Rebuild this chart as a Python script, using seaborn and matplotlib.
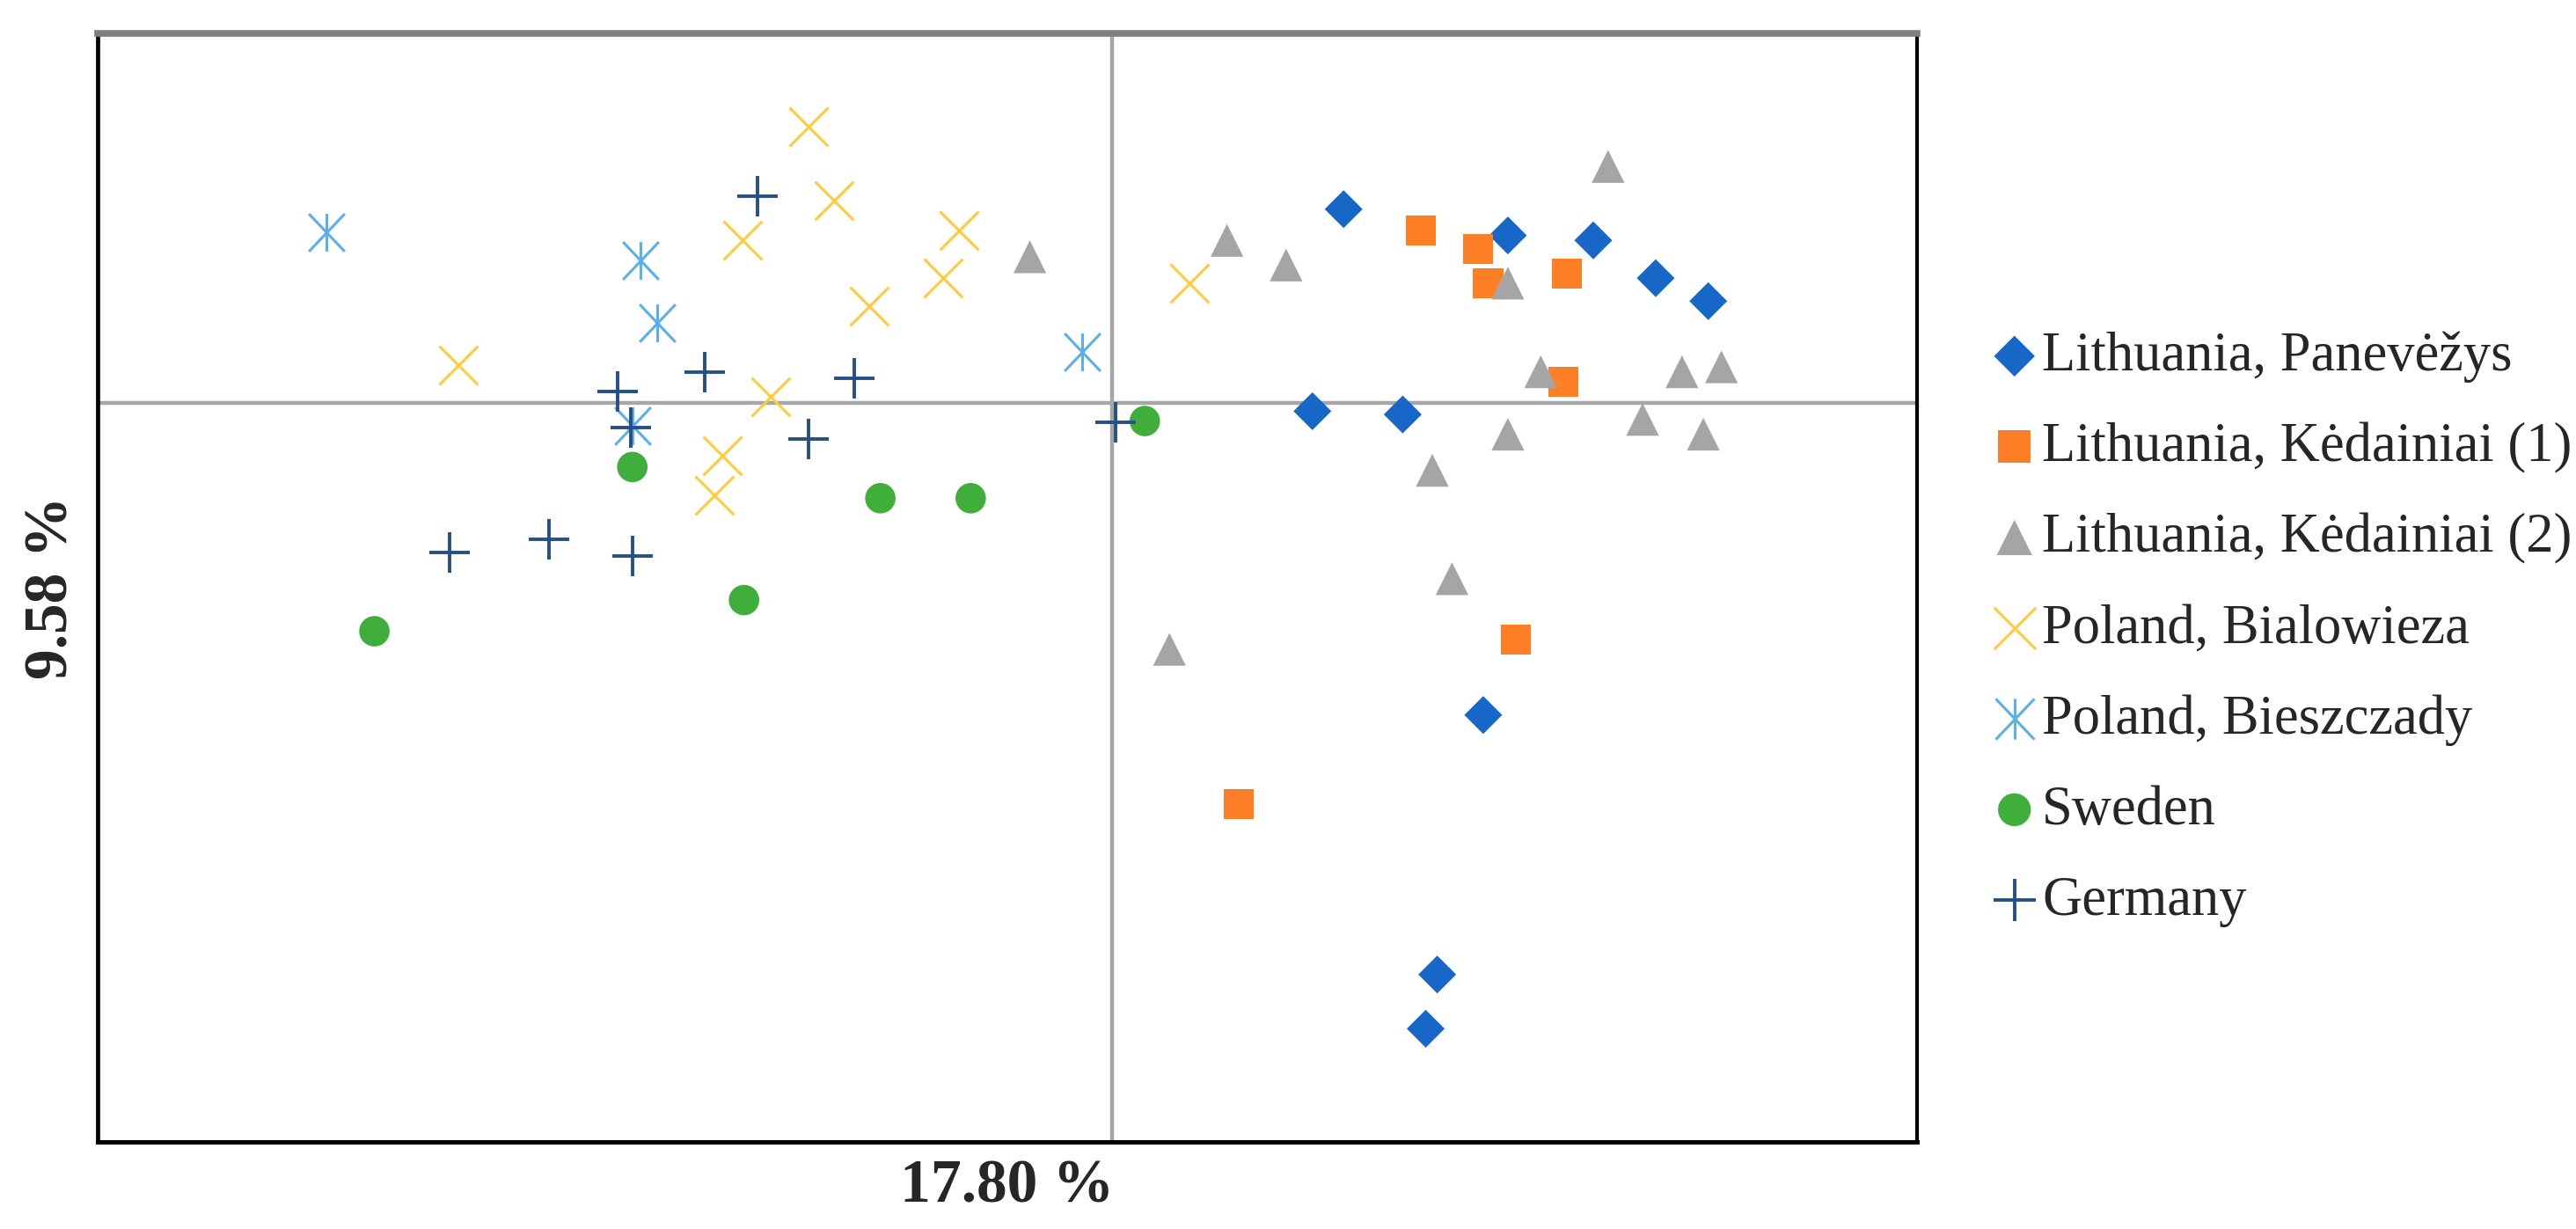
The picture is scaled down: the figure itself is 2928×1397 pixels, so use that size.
import matplotlib
matplotlib.use('Agg')
import matplotlib.pyplot as plt
from matplotlib.path import Path
import seaborn as sns

sns.set_style('white')
plt.rcParams['font.family'] = ['Liberation Serif', 'DejaVu Serif']

# PCA scores (arbitrary units, origin where the grey lines cross)
panevezys_x = [1.41, 2.41, 2.93, 3.31, 3.63, 1.22, 1.77, 2.26, 1.98, 1.91]
panevezys_y = [1.18, 1.02, 0.99, 0.76, 0.62, -0.05, -0.07, -1.90, -3.48, -3.81]

kedainiai1_x = [1.88, 2.23, 2.29, 2.77, 2.75, 2.46, 0.77]
kedainiai1_y = [1.05, 0.94, 0.73, 0.79, 0.13, -1.44, -2.44]

kedainiai2_x = [-0.50, 0.70, 1.06, 3.02, 2.41, 2.61, 3.47, 3.71, 3.23, 3.60, 2.41, 1.95, 2.07, 0.35]
kedainiai2_y = [0.89, 0.99, 0.84, 1.44, 0.73, 0.19, 0.19, 0.22, -0.10, -0.19, -0.19, -0.41, -1.07, -1.50]

bialowieza_x = [-1.85, -1.69, -2.25, -0.93, -1.03, -1.48, -3.98, -2.08, -2.37, -2.42, 0.47]
bialowieza_y = [1.68, 1.23, 0.99, 1.05, 0.76, 0.59, 0.23, 0.04, -0.32, -0.56, 0.73]

bieszczady_x = [-4.78, -2.87, -2.77, -0.18, -2.92]
bieszczady_y = [1.04, 0.87, 0.49, 0.31, -0.14]

sweden_x = [-2.92, -1.41, -0.86, -2.24, -4.49, 0.20]
sweden_y = [-0.39, -0.58, -0.58, -1.20, -1.39, -0.11]

germany_x = [-2.16, -2.48, -1.57, -3.01, -2.93, -1.85, -4.03, -3.43, -2.92, 0.02]
germany_y = [1.26, 0.19, 0.15, 0.07, -0.15, -0.22, -0.91, -0.83, -0.93, -0.12]

x_label = '17.80 %'
y_label = '9.58 %'

# asterisk: vertical stroke plus an X
asterisk = Path([(0, -1), (0, 1), (-0.95, -1), (0.95, 1), (-0.95, 1), (0.95, -1)],
                [Path.MOVETO, Path.LINETO, Path.MOVETO, Path.LINETO, Path.MOVETO, Path.LINETO])

fig = plt.figure(figsize=(29.28, 13.97), dpi=100)
ax = fig.add_axes([0.0379, 0.0709, 0.7063, 0.9019])

ax.axhline(0, color='#a6a6a6', lw=3.2, zorder=1)
ax.axvline(0, color='#a6a6a6', lw=3.2, zorder=1)

sns.scatterplot(x=panevezys_x, y=panevezys_y, marker='D', s=480, color='#1667C7',
                edgecolor='none', linewidth=0, label='Lithuania, Panevėžys', ax=ax, zorder=3)
sns.scatterplot(x=kedainiai1_x, y=kedainiai1_y, marker='s', s=600, color='#FF7F27',
                edgecolor='none', linewidth=0, label='Lithuania, Kėdainiai (1)', ax=ax, zorder=3)
sns.scatterplot(x=kedainiai2_x, y=kedainiai2_y, marker='^', s=720, color='#A5A5A5',
                edgecolor='none', linewidth=0, label='Lithuania, Kėdainiai (2)', ax=ax, zorder=3)
sns.scatterplot(x=bialowieza_x, y=bialowieza_y, marker='x', s=1000, color='#FFCB3D',
                linewidth=2.2, label='Poland, Bialowieza', ax=ax, zorder=3)
sns.scatterplot(x=bieszczady_x, y=bieszczady_y, marker=asterisk, s=950, color='#5AB0E8',
                edgecolor='#5AB0E8', linewidth=2.2, label='Poland, Bieszczady', ax=ax, zorder=3)
sns.scatterplot(x=sweden_x, y=sweden_y, marker='o', s=620, color='#3FAE3A',
                edgecolor='none', linewidth=0, label='Sweden', ax=ax, zorder=3)
sns.scatterplot(x=germany_x, y=germany_y, marker='+', s=1050, color='#264F85',
                linewidth=2.8, label='Germany', ax=ax, zorder=3)

ax.set_xlim(-6.175, 4.901)
ax.set_ylim(-4.499, 2.25)
ax.set_xticks([])
ax.set_yticks([])

for side in ['left', 'bottom', 'right']:
    ax.spines[side].set_color('black')
ax.spines['left'].set_linewidth(3.4)
ax.spines['bottom'].set_linewidth(3.6)
ax.spines['right'].set_linewidth(3.0)
ax.spines['top'].set_color('#7f7f7f')
ax.spines['top'].set_linewidth(5.5)

ax.set_xlabel(x_label, fontsize=50, fontweight='bold', labelpad=14)
ax.set_ylabel(y_label, fontsize=50, fontweight='bold', labelpad=14)

handles, labels = ax.get_legend_handles_labels()
ax.legend_.remove()
fig.legend(handles, labels, loc='center left', bbox_to_anchor=(0.7756, 0.488),
           frameon=False, fontsize=45, handlelength=0.6, handletextpad=0.2,
           labelspacing=0.72, borderpad=0, borderaxespad=0, markerscale=1.08)

fig.savefig('out.png', dpi=100)
